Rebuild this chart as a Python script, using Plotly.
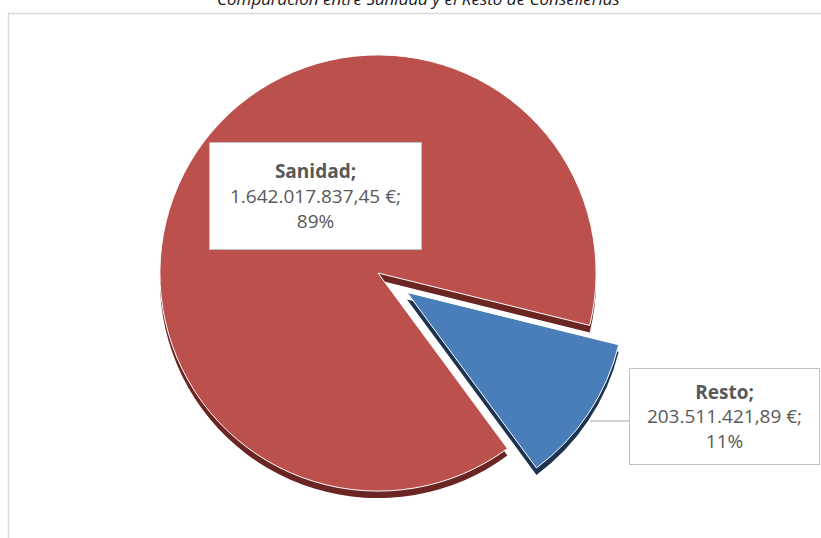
import plotly.graph_objects as go

# ---- data ----
labels = ["Sanidad", "Resto"]
values = [1642017837.45, 203511421.89]
colors = ["#BB504C", "#4A7EBA"]
side_colors = ["#6B2624", "#1C3352"]
title_text = "Comparación entre Sanidad y el Resto de Consellerias"

W, H = 821, 538


def px(x):
    return x / W


def py(y):
    return 1 - y / H


def fmt_es(v):
    s = f"{v:,.2f}"
    return s.replace(",", "X").replace(".", ",").replace("X", ".")


total = sum(values)
pcts = [round(100 * v / total) for v in values]

pull = [0, 0.16]
rotation = 143.6
# pie box (square) centred on the pie
cx, cy, half = 378, 273, 253
depth = 7

fig = go.Figure()
# extrusion / side wall
fig.add_trace(go.Pie(
    labels=labels, values=values, sort=False, direction="counterclockwise",
    rotation=rotation, pull=pull, textinfo="none", hoverinfo="skip",
    marker=dict(colors=side_colors, line=dict(color="#FFFFFF", width=0)),
    domain=dict(x=[px(cx - half), px(cx + half)],
                y=[py(cy + half + depth), py(cy - half + depth)]),
    showlegend=False,
))
# top face
fig.add_trace(go.Pie(
    labels=labels, values=values, sort=False, direction="counterclockwise",
    rotation=rotation, pull=pull, textinfo="none",
    marker=dict(colors=colors, line=dict(color="#FFFFFF", width=1)),
    domain=dict(x=[px(cx - half), px(cx + half)],
                y=[py(cy + half), py(cy - half)]),
    showlegend=False,
))

label_font = dict(family="Open Sans, Liberation Sans, sans-serif", size=19, color="#595959")

boxes = [
    dict(x=315.5, y=196, w=211, h=106),
    dict(x=724.5, y=416.5, w=189, h=95),
]
annotations = []
for lab, v, p, b in zip(labels, values, pcts, boxes):
    annotations.append(dict(
        x=px(b["x"]), y=py(b["y"]), xref="paper", yref="paper",
        xanchor="center", yanchor="middle", showarrow=False,
        text=f"<b>{lab};</b><br>{fmt_es(v)} €;<br>{p}%",
        font=label_font, align="center",
        bgcolor="#FFFFFF", bordercolor="#BFBFBF", borderwidth=1, borderpad=0,
        width=b["w"], height=b["h"],
    ))

annotations.append(dict(
    x=px(418), y=py(-2), xref="paper", yref="paper",
    xanchor="center", yanchor="middle", showarrow=False,
    text=f"<i>{title_text}</i>",
    font=dict(family="Open Sans, Liberation Sans, sans-serif", size=17, color="#1A1A1A"),
))

shapes = [
    # chart area frame
    dict(type="rect", xref="paper", yref="paper",
         x0=px(8.5), x1=px(840), y0=py(13.5), y1=py(560),
         line=dict(color="#D9D9D9", width=1.5), fillcolor="rgba(0,0,0,0)", layer="below"),
    # leader line
    dict(type="line", xref="paper", yref="paper",
         x0=px(590), x1=px(630), y0=py(421), y1=py(421),
         line=dict(color="#A6A6A6", width=1.2)),
]

fig.update_layout(
    width=W, height=H,
    margin=dict(l=0, r=0, t=0, b=0),
    paper_bgcolor="#FFFFFF", plot_bgcolor="#FFFFFF",
    annotations=annotations, shapes=shapes,
    showlegend=False,
)

fig.write_html("out.html")
